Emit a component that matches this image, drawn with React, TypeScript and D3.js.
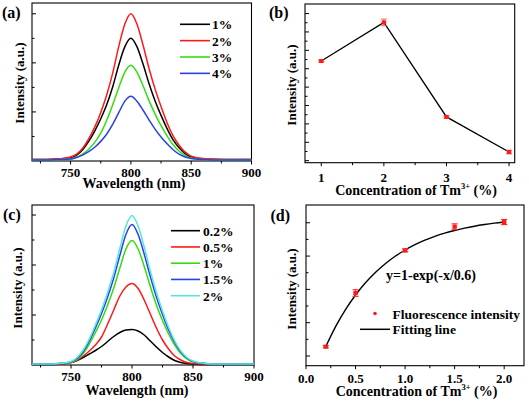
import React from "react";
import * as d3 from "d3";

const FONT = '"Liberation Serif", "Times New Roman", Times, serif';

// ---------- Panel (a) ----------
const waveA = [718, 730, 740, 750, 755, 760, 765, 770, 775, 780, 785, 790, 795, 800, 805, 810, 815, 820, 825, 830, 835, 840, 845, 850, 860, 870, 880, 890, 900];
const a1 = [0.03, 0.03, 0.04, 0.07, 0.12, 0.23, 0.4, 0.61, 0.86, 1.15, 1.52, 1.96, 2.33, 2.5, 2.33, 1.98, 1.58, 1.23, 0.93, 0.66, 0.43, 0.27, 0.15, 0.08, 0.04, 0.03, 0.03, 0.03, 0.03];
const a2 = [0.03, 0.03, 0.04, 0.08, 0.14, 0.26, 0.45, 0.69, 0.99, 1.35, 1.8, 2.34, 2.79, 3.0, 2.79, 2.37, 1.89, 1.47, 1.11, 0.78, 0.51, 0.32, 0.18, 0.1, 0.05, 0.04, 0.03, 0.03, 0.03];
const a3 = [0.02, 0.02, 0.03, 0.04, 0.08, 0.14, 0.24, 0.38, 0.57, 0.83, 1.15, 1.5, 1.81, 1.95, 1.81, 1.54, 1.23, 0.96, 0.72, 0.51, 0.33, 0.2, 0.11, 0.06, 0.03, 0.02, 0.02, 0.02, 0.02];
const a4 = [0.02, 0.02, 0.03, 0.04, 0.07, 0.12, 0.19, 0.28, 0.4, 0.55, 0.75, 0.99, 1.22, 1.32, 1.22, 1.04, 0.84, 0.65, 0.49, 0.35, 0.23, 0.14, 0.08, 0.05, 0.03, 0.02, 0.02, 0.02, 0.02];
const labelsA = ["1%", "2%", "3%", "4%"];
const colorsA = ["#000000", "#ff1a1a", "#33dd11", "#2a40e8"];

// ---------- Panel (b) ----------
const concB = [1, 2, 3, 4];
const intB = [5.42, 7.52, 2.38, 0.47];
const errB = [0.05, 0.18, 0.06, 0.1];

// ---------- Panel (c) ----------
const c1 = [0.01, 0.01, 0.02, 0.05, 0.09, 0.15, 0.22, 0.29, 0.37, 0.47, 0.57, 0.65, 0.7, 0.71, 0.68, 0.6, 0.48, 0.36, 0.25, 0.16, 0.09, 0.05, 0.03, 0.02, 0.01, 0.01, 0.01, 0.01, 0.01];
const c2 = [0.02, 0.02, 0.02, 0.05, 0.1, 0.18, 0.28, 0.4, 0.56, 0.82, 1.1, 1.38, 1.56, 1.63, 1.53, 1.3, 1.02, 0.74, 0.5, 0.32, 0.18, 0.1, 0.05, 0.03, 0.02, 0.02, 0.02, 0.02, 0.02];
const c3 = [0.02, 0.02, 0.03, 0.05, 0.11, 0.23, 0.42, 0.65, 0.9, 1.2, 1.54, 1.94, 2.32, 2.49, 2.32, 1.97, 1.57, 1.2, 0.89, 0.62, 0.4, 0.23, 0.12, 0.06, 0.03, 0.02, 0.02, 0.02, 0.02];
const c4 = [0.02, 0.02, 0.03, 0.06, 0.13, 0.27, 0.48, 0.74, 1.03, 1.36, 1.74, 2.19, 2.61, 2.81, 2.61, 2.22, 1.77, 1.36, 1.01, 0.7, 0.45, 0.26, 0.14, 0.07, 0.03, 0.02, 0.02, 0.02, 0.02];
const c5 = [0.02, 0.02, 0.03, 0.07, 0.15, 0.3, 0.52, 0.8, 1.1, 1.45, 1.85, 2.33, 2.78, 2.99, 2.78, 2.36, 1.88, 1.45, 1.08, 0.75, 0.48, 0.28, 0.15, 0.08, 0.03, 0.02, 0.02, 0.02, 0.02];
const labelsC = ["0.2%", "0.5%", "1%", "1.5%", "2%"];
const colorsC = ["#000000", "#ff1a1a", "#33dd11", "#2a40e8", "#55e6de"];

// ---------- Panel (d) ----------
const concD = [0.2, 0.5, 1.0, 1.5, 2.0];
const intD = [0.283, 0.576, 0.809, 0.938, 0.964];
const errD = [0.006, 0.018, 0.008, 0.016, 0.014];
const fitX = [0.2, 0.3, 0.4, 0.5, 0.6, 0.7, 0.8, 0.9, 1.0, 1.1, 1.2, 1.3, 1.4, 1.5, 1.6, 1.7, 1.8, 1.9, 2.0];
const fitY = [0.2835, 0.3935, 0.4866, 0.5654, 0.6321, 0.6886, 0.7364, 0.7769, 0.8111, 0.8401, 0.8647, 0.8854, 0.903, 0.9179, 0.9305, 0.9412, 0.9502, 0.9579, 0.9643];
const yTicksDMajor = [0.232, 0.414, 0.596, 0.778, 0.96];
const yTicksDMinor = [0.323, 0.505, 0.687, 0.869];

type Lin = d3.ScaleLinear<number, number>;

function Frame(props: {
  x: Lin; y: Lin; xMajor: number[]; xMinor: number[]; yMajor: number[]; yMinor: number[];
  xFmt: (v: number) => string; labelY: number;
}) {
  const { x, y, xMajor, xMinor, yMajor, yMinor, xFmt, labelY } = props;
  const [x0, x1] = x.range();
  const [yb, yt] = y.range();
  return (
    <g>
      <rect x={x0} y={yt} width={x1 - x0} height={yb - yt} fill="none" stroke="#000" strokeWidth={1.1} />
      {yMajor.map((v, i) => (
        <line key={"ym" + i} x1={x0} x2={x0 + 4} y1={y(v)} y2={y(v)} stroke="#000" strokeWidth={1} />
      ))}
      {yMinor.map((v, i) => (
        <line key={"yn" + i} x1={x0} x2={x0 + 2.5} y1={y(v)} y2={y(v)} stroke="#000" strokeWidth={1} />
      ))}
      {xMajor.map((v, i) => (
        <line key={"xm" + i} x1={x(v)} x2={x(v)} y1={yb} y2={yb + 3.5} stroke="#000" strokeWidth={1} />
      ))}
      {xMinor.map((v, i) => (
        <line key={"xn" + i} x1={x(v)} x2={x(v)} y1={yb} y2={yb + 2.5} stroke="#000" strokeWidth={1} />
      ))}
      {xMajor.map((v, i) => (
        <text key={"xl" + i} x={x(v)} y={labelY} textAnchor="middle" fontFamily={FONT} fontWeight="bold" fontSize={13} fill="#000">
          {xFmt(v)}
        </text>
      ))}
    </g>
  );
}

function YTitle({ x, y }: { x: number; y: number }) {
  return (
    <text transform={`translate(${x},${y}) rotate(-90)`} textAnchor="middle" fontFamily={FONT} fontWeight="bold" fontSize={13} fill="#000">
      Intensity (a.u.)
    </text>
  );
}

function ConcTitle({ x, y }: { x: number; y: number }) {
  return (
    <text x={x} y={y} textAnchor="middle" fontFamily={FONT} fontWeight="bold" fontSize={14} fill="#000">
      <tspan>Concentration of Tm</tspan>
      <tspan dy={-6} fontSize={8.5}>3+</tspan>
      <tspan dy={6}> (%)</tspan>
    </text>
  );
}

export default function App() {
  // (a)
  const xA = d3.scaleLinear().domain([718, 900]).range([32, 251.5]);
  const yA = d3.scaleLinear().domain([0, 3.22]).range([161, 3]);
  const lineA = d3.line<[number, number]>().x((d) => xA(d[0])).y((d) => yA(d[1])).curve(d3.curveMonotoneX);
  const seriesA = [a1, a2, a3, a4];

  // (b)
  const xB = d3.scaleLinear().domain([0.74, 4.09]).range([305, 514.7]);
  const yB = d3.scaleLinear().domain([-0.11, 8.52]).range([162.7, 4]);
  const lineB = d3.line<number>().x((_, i) => xB(concB[i])).y((d) => yB(d));

  // (c)
  const xC = d3.scaleLinear().domain([718, 900]).range([32, 254]);
  const yC = d3.scaleLinear().domain([0, 3.2]).range([365, 205]);
  const lineC = d3.line<[number, number]>().x((d) => xC(d[0])).y((d) => yC(d[1])).curve(d3.curveMonotoneX);
  const seriesC = [c1, c2, c3, c4, c5];

  // (d)
  const xD = d3.scaleLinear().domain([0, 2.2]).range([306, 524]);
  const yD = d3.scaleLinear().domain([0.179, 1.057]).range([365.7, 205]);
  const lineD = d3.line<number>().x((_, i) => xD(fitX[i])).y((d) => yD(d)).curve(d3.curveMonotoneX);

  const txt = { fontFamily: FONT, fontWeight: "bold" as const, fill: "#000" };

  return (
    <svg width={529} height={401} style={{ position: "absolute", left: 0, top: 0, background: "#fff" }}>
      <rect x={0} y={0} width={529} height={401} fill="#fff" />

      {/* ---------- (a) ---------- */}
      <Frame x={xA} y={yA} xMajor={[750, 800, 850, 900]} xMinor={[725, 775, 825, 875]}
        yMajor={[1, 2, 3]} yMinor={[0.5, 1.5, 2.5]} xFmt={(v) => String(v)} labelY={177} />
      {seriesA.map((s, k) => (
        <path key={"a" + k} d={lineA(waveA.map((w, i) => [w, s[i]] as [number, number])) || ""} fill="none" stroke={colorsA[k]} strokeWidth={1.5} />
      ))}
      {labelsA.map((l, k) => (
        <g key={"la" + k}>
          <line x1={180} x2={210} y1={24.3 + k * 16.35} y2={24.3 + k * 16.35} stroke={colorsA[k]} strokeWidth={1.6} />
          <text x={212} y={29.3 + k * 16.35} fontSize={13.5} {...txt}>{l}</text>
        </g>
      ))}
      <text x={2} y={18} fontSize={16} {...txt}>(a)</text>
      <YTitle x={24} y={83} />
      <text x={134} y={188} textAnchor="middle" fontSize={14} {...txt}>Wavelength (nm)</text>

      {/* ---------- (b) ---------- */}
      <Frame x={xB} y={yB} xMajor={[1, 2, 3, 4]} xMinor={[1.5, 2.5, 3.5]}
        yMajor={[0, 1, 2, 3, 4, 5, 6, 7, 8]} yMinor={[0.5, 1.5, 2.5, 3.5, 4.5, 5.5, 6.5, 7.5]}
        xFmt={(v) => String(v)} labelY={182} />
      <path d={lineB(intB) || ""} fill="none" stroke="#000" strokeWidth={1.3} />
      {concB.map((c, i) => (
        <g key={"pb" + i}>
          <line x1={xB(c)} x2={xB(c)} y1={yB(intB[i] - errB[i])} y2={yB(intB[i] + errB[i])} stroke="#ff5a5a" strokeWidth={1} />
          <line x1={xB(c) - 3} x2={xB(c) + 3} y1={yB(intB[i] - errB[i])} y2={yB(intB[i] - errB[i])} stroke="#ff5a5a" strokeWidth={1} />
          <line x1={xB(c) - 3} x2={xB(c) + 3} y1={yB(intB[i] + errB[i])} y2={yB(intB[i] + errB[i])} stroke="#ff5a5a" strokeWidth={1} />
          <rect x={xB(c) - 2.2} y={yB(intB[i]) - 2} width={4.4} height={4} fill="#ff1a1a" />
        </g>
      ))}
      <text x={269} y={18} fontSize={16} {...txt}>(b)</text>
      <YTitle x={296} y={85} />
      <ConcTitle x={416} y={195} />

      {/* ---------- (c) ---------- */}
      <Frame x={xC} y={yC} xMajor={[750, 800, 850, 900]} xMinor={[725, 775, 825, 875]}
        yMajor={[1, 2, 3]} yMinor={[0.5, 1.5, 2.5]} xFmt={(v) => String(v)} labelY={380.5} />
      {seriesC.map((s, k) => (
        <path key={"c" + k} d={lineC(waveA.map((w, i) => [w, s[i]] as [number, number])) || ""} fill="none" stroke={colorsC[k]} strokeWidth={1.5} />
      ))}
      {labelsC.map((l, k) => (
        <g key={"lc" + k}>
          <line x1={171} x2={200} y1={230.7 + k * 16.25} y2={230.7 + k * 16.25} stroke={colorsC[k]} strokeWidth={1.6} />
          <text x={203} y={235.7 + k * 16.25} fontSize={13.5} {...txt}>{l}</text>
        </g>
      ))}
      <text x={3} y={220} fontSize={16} {...txt}>(c)</text>
      <YTitle x={22} y={288} />
      <text x={137} y={395} textAnchor="middle" fontSize={14} {...txt}>Wavelength (nm)</text>

      {/* ---------- (d) ---------- */}
      <Frame x={xD} y={yD} xMajor={[0, 0.5, 1, 1.5, 2]} xMinor={[0.25, 0.75, 1.25, 1.75]}
        yMajor={yTicksDMajor} yMinor={yTicksDMinor} xFmt={(v) => v.toFixed(1)} labelY={383} />
      <path d={lineD(fitY) || ""} fill="none" stroke="#000" strokeWidth={1.4} />
      {concD.map((c, i) => (
        <g key={"pd" + i}>
          <line x1={xD(c)} x2={xD(c)} y1={yD(intD[i] - errD[i])} y2={yD(intD[i] + errD[i])} stroke="#ff2a2a" strokeWidth={1} />
          <line x1={xD(c) - 3} x2={xD(c) + 3} y1={yD(intD[i] - errD[i])} y2={yD(intD[i] - errD[i])} stroke="#ff2a2a" strokeWidth={1.2} />
          <line x1={xD(c) - 3} x2={xD(c) + 3} y1={yD(intD[i] + errD[i])} y2={yD(intD[i] + errD[i])} stroke="#ff2a2a" strokeWidth={1.2} />
          <rect x={xD(c) - 2.2} y={yD(intD[i]) - 2} width={4.4} height={4} fill="#ff1a1a" />
        </g>
      ))}
      <text x={386} y={279.5} fontSize={14} {...txt}>y=1-exp(-x/0.6)</text>
      <circle cx={375} cy={313.5} r={1.8} fill="#ff1a1a" />
      <text x={392.5} y={318.5} fontSize={13.5} {...txt}>Fluorescence intensity</text>
      <line x1={360} x2={390} y1={329.3} y2={329.3} stroke="#000" strokeWidth={1.5} />
      <text x={392.5} y={333.5} fontSize={13.5} {...txt}>Fitting line</text>
      <text x={270.5} y={221} fontSize={16} {...txt}>(d)</text>
      <YTitle x={295.5} y={289} />
      <ConcTitle x={416.5} y={396} />
    </svg>
  );
}
